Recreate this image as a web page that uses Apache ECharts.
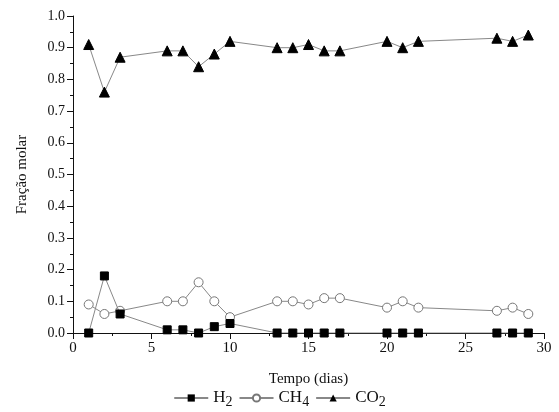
<!DOCTYPE html>
<html>
<head>
<meta charset="utf-8">
<script src="https://cdn.jsdelivr.net/npm/echarts@6/dist/echarts.min.js"></script>
<style>
  html, body { margin: 0; padding: 0; background: #fff; }
  #chart { width: 559px; height: 412px; }
</style>
</head>
<body>
<div id="chart"></div>
<script>
// dias de coleta
var dias = [1, 2, 3, 6, 7, 8, 9, 10, 13, 14, 15, 16, 17, 20, 21, 22, 27, 28, 29];
var h2 = [0, 0.18, 0.06, 0.01, 0.01, 0, 0.02, 0.03, 0, 0, 0, 0, 0, 0, 0, 0, 0, 0, 0];
var ch4 = [0.09, 0.06, 0.07, 0.10, 0.10, 0.16, 0.10, 0.05, 0.10, 0.10, 0.09, 0.11, 0.11, 0.08, 0.10, 0.08, 0.07, 0.08, 0.06];
var co2 = [0.91, 0.76, 0.87, 0.89, 0.89, 0.84, 0.88, 0.92, 0.90, 0.90, 0.91, 0.89, 0.89, 0.92, 0.90, 0.92, 0.93, 0.92, 0.94];

function pares(ys) {
  return dias.map(function (d, i) { return [d, ys[i]]; });
}

var fonte = "Liberation Serif";
var chart = echarts.init(document.getElementById("chart"));

var option = {
  backgroundColor: "#fff",
  textStyle: { fontFamily: fonte, color: "#111" },
  grid: { left: 73, right: 15, top: 16, bottom: 79 },
  xAxis: {
    type: "value",
    min: 0,
    max: 30,
    interval: 5,
    name: "Tempo (dias)",
    nameLocation: "middle",
    nameGap: 39,
    nameTextStyle: { fontFamily: fonte, fontSize: 15, color: "#111" },
    axisLine: { lineStyle: { color: "#111", width: 1 } },
    axisTick: { show: true, length: 6, lineStyle: { color: "#111" } },
    minorTick: { show: true, splitNumber: 2, length: 3, lineStyle: { color: "#111" } },
    axisLabel: { fontFamily: fonte, fontSize: 15, color: "#111", margin: 8 },
    splitLine: { show: false }
  },
  yAxis: {
    type: "value",
    min: 0,
    max: 1,
    interval: 0.1,
    name: "Fração molar",
    nameLocation: "middle",
    nameGap: 43,
    nameTextStyle: { fontFamily: fonte, fontSize: 15, color: "#111" },
    axisLine: { show: true, lineStyle: { color: "#111", width: 1 } },
    axisTick: { show: true, length: 6, lineStyle: { color: "#111" } },
    minorTick: { show: true, splitNumber: 2, length: 3, lineStyle: { color: "#111" } },
    axisLabel: {
      fontFamily: fonte, fontSize: 14, color: "#111", margin: 8,
      formatter: function (v) { return v.toFixed(1); }
    },
    splitLine: { show: false }
  },
  legend: {
    bottom: -2,
    left: "center",
    itemGap: 6,
    itemWidth: 34,
    itemHeight: 9,
    textStyle: {
      fontFamily: fonte,
      fontSize: 17,
      color: "#111",
      rich: {
        a: { fontFamily: fonte, fontSize: 17, color: "#111" },
        s: { fontFamily: fonte, fontSize: 14, color: "#111", padding: [8, 0, 0, 0] }
      }
    },
    formatter: function (n) {
      var m = n.match(/^([A-Z]+)(\d*)$/);
      return "{a|" + m[1] + "}{s|" + m[2] + "}";
    },
    data: ["H2", "CH4", "CO2"]
  },
  series: [
    {
      name: "H2",
      type: "line",
      data: pares(h2),
      symbol: "rect",
      symbolSize: 8,
      lineStyle: { color: "#888", width: 1 },
      itemStyle: { color: "#000", borderColor: "#000" },
      z: 3
    },
    {
      name: "CH4",
      type: "line",
      data: pares(ch4),
      symbol: "circle",
      symbolSize: 9,
      lineStyle: { color: "#888", width: 1 },
      itemStyle: { color: "#fff", borderColor: "#777", borderWidth: 1 },
      z: 2
    },
    {
      name: "CO2",
      type: "line",
      data: pares(co2),
      symbol: "triangle",
      symbolSize: 10,
      lineStyle: { color: "#888", width: 1 },
      itemStyle: { color: "#000", borderColor: "#000" },
      z: 2
    }
  ]
};

chart.setOption(option);
</script>
</body>
</html>
